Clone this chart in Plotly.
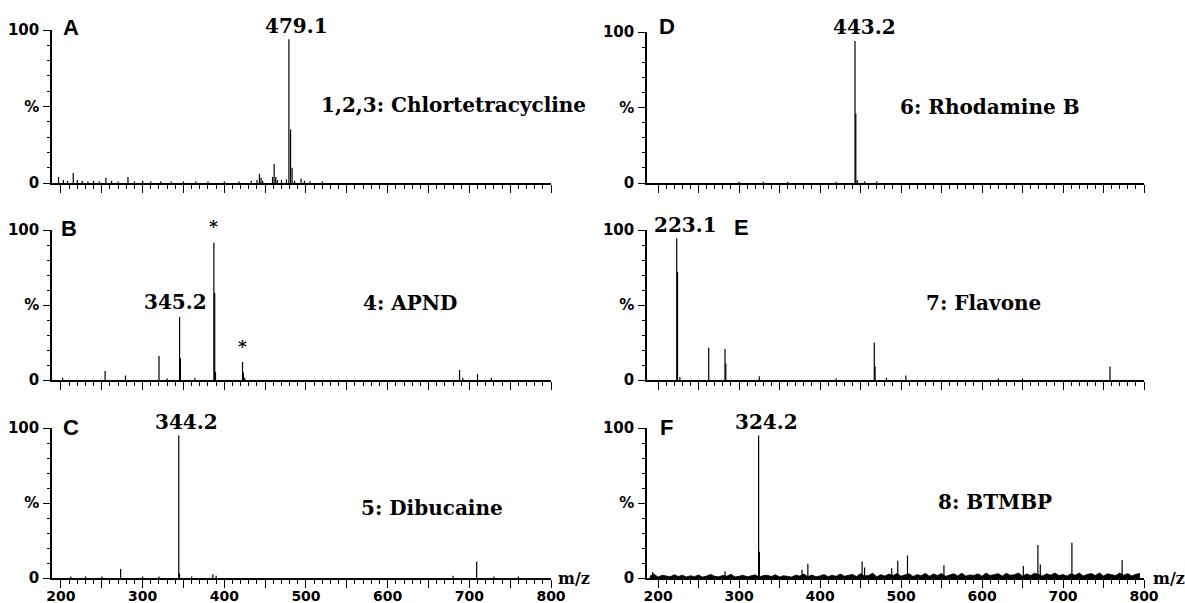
import plotly.graph_objects as go

W, H = 1185, 603

# ---- Spectra (m/z, relative intensity %) ----
a_mz = [197, 203, 208, 215, 220, 226, 233, 240, 247, 255, 262, 270, 282, 290, 300, 310,
        322, 335, 350, 365, 380, 400, 418, 433, 440, 443, 445, 447, 459, 461, 463, 465,
        470, 476, 479.1, 481.1, 483, 486, 494, 498, 505, 520]
a_int = [4, 2, 1.5, 6.5, 2, 1.5, 1, 1.5, 1, 3.5, 1.5, 1, 4, 1, 1.5, 1,
         1, 1, 1, 1, 1, 1, 1, 1.5, 2, 6, 3.5, 1.5, 4, 12.5, 4, 2,
         2, 2.5, 94, 35, 10, 1.5, 3, 1.5, 1, 1]

b_mz = [202, 254, 279, 320, 330, 345.2, 346.2, 364, 387.2, 388.2, 389.2, 422.3, 423.3,
        425, 688, 692, 710, 727]
b_int = [1.5, 6, 3, 16, 1, 42, 14.5, 1.5, 91.5, 58, 5.5, 12, 5,
         1.5, 6.7, 1.5, 4, 1.5]

c_mz = [212, 230, 250, 273, 300, 320, 344.2, 345.2, 360, 386, 390, 680, 709, 730, 760]
c_int = [1, 1, 1, 6, 1, 1, 95, 3, 1, 2.5, 1.5, 1.5, 11, 1, 1]

d_mz = [300, 330, 360, 420, 443.2, 444.2, 446, 455, 470]
d_int = [0.8, 0.8, 0.8, 0.8, 94, 46, 2, 1, 1]

e_mz = [223.1, 224.1, 227, 262.6, 282.7, 283.7, 325, 420, 467, 468, 482, 506, 620, 650, 758]
e_int = [94.5, 72, 2, 21.5, 20.7, 11, 2.5, 1, 25, 9, 1.5, 3, 1, 1, 9]

f_mz = [193.5, 282.7, 324.2, 325.2, 377.8, 385, 452, 455, 488.5, 496, 508, 553, 651,
        669, 672, 711, 773]
f_int = [4, 4.5, 95, 17.5, 5.5, 9.5, 11, 7, 6.5, 11.5, 15, 8.5, 8,
         22, 9, 23.5, 12]

# baseline noise of spectrum F
f_noise_mz = [190, 195, 200, 205, 210, 215, 220, 225, 230, 235,
              240, 245, 250, 255, 260, 265, 270, 275, 280, 285,
              290, 295, 300, 305, 310, 315, 320, 325, 330, 335,
              340, 345, 350, 355, 360, 365, 370, 375, 380, 385,
              390, 395, 400, 405, 410, 415, 420, 425, 430, 435,
              440, 445, 450, 455, 460, 465, 470, 475, 480, 485,
              490, 495, 500, 505, 510, 515, 520, 525, 530, 535,
              540, 545, 550, 555, 560, 565, 570, 575, 580, 585,
              590, 595, 600, 605, 610, 615, 620, 625, 630, 635,
              640, 645, 650, 655, 660, 665, 670, 675, 680, 685,
              690, 695, 700, 705, 710, 715, 720, 725, 730, 735,
              740, 745, 750, 755, 760, 765, 770, 775, 780, 785,
              790, 795]
f_noise_int = [1.2, 2.6, 0.6, 1.8, 1.4, 0.8, 2.2, 1.0, 1.9, 0.7,
               1.5, 0.9, 2.0, 0.6, 1.3, 2.4, 1.1, 0.8, 1.7, 1.2,
               2.5, 0.7, 1.1, 1.9, 0.8, 1.4, 2.1, 0.6, 1.6, 1.8,
               1.0, 2.2, 0.7, 1.5, 1.2, 0.6, 1.9, 1.3, 2.6, 0.9,
               2.0, 0.8, 1.4, 2.3, 0.9, 1.8, 1.1, 2.7, 1.2, 1.6,
               2.4, 1.0, 2.9, 1.4, 1.7, 3.2, 0.9, 2.2, 1.3, 2.6,
               1.6, 3.0, 1.2, 2.1, 2.8, 1.0, 2.3, 1.5, 3.1, 1.2,
               2.7, 1.6, 3.0, 1.1, 2.2, 2.9, 1.4, 3.2, 1.3, 2.0,
               1.7, 2.8, 1.2, 3.3, 1.6, 2.1, 2.9, 1.3, 3.1, 1.8,
               2.2, 3.3, 1.2, 2.7, 1.7, 3.2, 2.3, 1.4, 2.8, 1.9,
               3.4, 1.6, 2.3, 1.3, 2.9, 1.8, 3.3, 1.4, 2.4, 3.0,
               1.7, 3.4, 1.3, 2.8, 2.2, 1.6, 3.3, 1.9, 2.9, 1.4,
               2.5, 3.0]

# ---- Panel texts ----
panel_letters = ["A", "B", "C", "D", "E", "F"]
compound_names = ["1,2,3: Chlortetracycline", "4: APND", "5: Dibucaine",
                  "6: Rhodamine B", "7: Flavone", "8: BTMBP"]
# (panel index, m/z of labelled peak, label text, label height in %, x shift px)
peak_labels = [(0, 479.1, "479.1", 102.6, 8),
               (1, 345.2, "345.2", 52.0, -4),
               (2, 344.2, "344.2", 104.0, 8),
               (3, 443.2, "443.2", 103.3, 9),
               (4, 223.1, "223.1", 103.3, 9),
               (5, 324.2, "324.2", 104.0, 8)]
# marked peaks in spectrum B
star_mz = [387.2, 422.3]
star_y = [102.5, 22.5]

x_tick_vals = [200, 250, 300, 350, 400, 450, 500, 550, 600, 650, 700, 750, 800]
x_tick_text = ["200", "", "300", "", "400", "", "500", "", "600", "", "700", "", "800"]
x_minor_vals = [v for v in range(210, 800, 10) if v % 50 != 0]
y_tick_vals = [0, 50, 100]
y_tick_text = ["0", "%", "100"]
y_minor_vals = [10, 20, 30, 40, 60, 70, 80, 90]

# ---- Layout geometry (pixels) ----
X_MAX = 800
left_x = (52, 551, 189.0)      # y-axis px, right end px, m/z at left edge
right_x = (647, 1144, 186.4)
rows_px = [(30, 183), (230, 380), (428, 578)]
rows_px_right = [(32, 183), (230, 380), (428, 578)]


def panel_geom(i):
    col = left_x if i < 3 else right_x
    row = (rows_px if i < 3 else rows_px_right)[i % 3]
    return col, row


def sticks(mz, inten):
    xs, ys = [], []
    for m, v in zip(mz, inten):
        xs += [m, m, None]
        ys += [0, v, None]
    return xs, ys


def px_x(px):
    return px / W


def px_y(py):
    return 1 - py / H


def data_to_paper(i, mz, val):
    col, row = panel_geom(i)
    px = col[0] + (mz - col[2]) / (X_MAX - col[2]) * (col[1] - col[0])
    py = row[1] - val / 100 * (row[1] - row[0])
    return px_x(px), px_y(py)


fig = go.Figure()
spectra = [(a_mz, a_int), (b_mz, b_int), (c_mz, c_int),
           (d_mz, d_int), (e_mz, e_int), (f_mz, f_int)]

tick_font = dict(family="DejaVu Sans", size=15, color="black", weight="bold")

for i, (mz, inten) in enumerate(spectra):
    n = i + 1
    if n == 6:
        fig.add_trace(go.Scatter(x=f_noise_mz, y=f_noise_int, mode="lines",
                                 fill="tozeroy", fillcolor="black",
                                 line=dict(color="black", width=0.8),
                                 xaxis="x6", yaxis="y6", hoverinfo="skip"))
    xs, ys = sticks(mz, inten)
    fig.add_trace(go.Scatter(x=xs, y=ys, mode="lines",
                             line=dict(color="black", width=1.2),
                             xaxis=f"x{n}", yaxis=f"y{n}", hoverinfo="skip"))

    col, rpx = panel_geom(i)
    bottom = (i % 3 == 2)
    xa = dict(domain=[px_x(col[0]), px_x(col[1])], range=[col[2], X_MAX],
              anchor=f"y{n}", showline=True, linecolor="black", linewidth=2,
              showgrid=False, zeroline=False, automargin=False,
              ticks="outside", ticklen=8, tickwidth=1.4, tickcolor="black",
              tickmode="array", tickvals=x_tick_vals,
              ticktext=x_tick_text if bottom else [""] * len(x_tick_vals),
              tickfont=dict(family="DejaVu Sans", size=14, color="black", weight="bold"),
              ticklabelstandoff=-4,
              minor=dict(ticks="outside", ticklen=4, tickwidth=1.1, tickcolor="black",
                         tickmode="array", tickvals=x_minor_vals, showgrid=False))
    ya = dict(domain=[px_y(rpx[1]), px_y(rpx[0])], range=[0, 100],
              anchor=f"x{n}", showline=True, linecolor="black", linewidth=1.5,
              showgrid=False, zeroline=False, automargin=False,
              ticks="outside", ticklen=7, tickwidth=1.4, tickcolor="black",
              tickmode="array", tickvals=y_tick_vals, ticktext=y_tick_text,
              tickfont=tick_font, ticklabelstandoff=1,
              minor=dict(ticks="outside", ticklen=3.5, tickwidth=1.1, tickcolor="black",
                         tickmode="array", tickvals=y_minor_vals, showgrid=False))
    key = "" if n == 1 else str(n)
    fig.layout[f"xaxis{key}"] = xa
    fig.layout[f"yaxis{key}"] = ya

annotations = []
serif = dict(family="DejaVu Serif", size=20, color="black", weight="bold")
sans_letter = dict(family="Liberation Sans", size=22, color="black", weight="bold")

letter_pos = [(71, 27.5), (69, 228.5), (71, 427.5), (667, 26.5), (741, 227.5), (666, 427.5)]
for t, (px, py) in zip(panel_letters, letter_pos):
    annotations.append(dict(text=t, x=px_x(px), y=px_y(py), xref="paper", yref="paper",
                            xanchor="center", yanchor="middle", showarrow=False,
                            font=sans_letter))

name_pos = [(453, 104.5), (410, 303), (432, 508), (990, 107), (983, 303), (995, 502)]
for t, (px, py) in zip(compound_names, name_pos):
    annotations.append(dict(text=t, x=px_x(px), y=px_y(py), xref="paper", yref="paper",
                            xanchor="center", yanchor="middle", showarrow=False,
                            font=serif))

for i, mz, t, yv, dx in peak_labels:
    ax, ay = data_to_paper(i, mz, yv)
    annotations.append(dict(text=t, x=ax, y=ay, xref="paper", yref="paper",
                            xanchor="center", yanchor="middle", xshift=dx,
                            showarrow=False, font=serif))

for mz, yv in zip(star_mz, star_y):
    ax, ay = data_to_paper(1, mz, yv)
    annotations.append(dict(text="*", x=ax, y=ay, xref="paper", yref="paper",
                            xanchor="center", yanchor="middle", showarrow=False,
                            font=dict(family="DejaVu Serif", size=17, color="black",
                                      weight="bold")))

for px in (574, 1169):
    annotations.append(dict(text="m/z", x=px_x(px), y=px_y(578), xref="paper",
                            yref="paper", xanchor="center", yanchor="middle",
                            showarrow=False,
                            font=dict(family="DejaVu Serif", size=16, color="black",
                                      weight="bold")))

fig.update_layout(width=W, height=H, margin=dict(l=0, r=0, t=0, b=0),
                  template="none",
                  paper_bgcolor="white", plot_bgcolor="white", showlegend=False,
                  annotations=annotations)

fig.write_html("out.html")
